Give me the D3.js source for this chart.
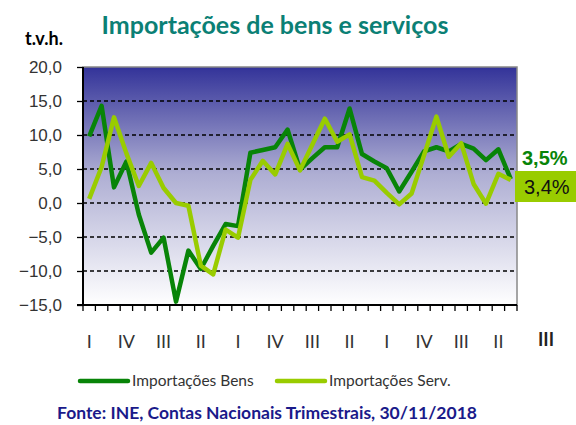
<html>
<head>
  <style>
  body {
    margin: 0;
    background: #fff;
  }
  svg text {
    font-family: "Liberation Sans", Arial, sans-serif;
  }
  .axis .domain {
    display: none;
  }
  .grid line {
    stroke: #000;
    stroke-dasharray: 4,3;
    stroke-width: 1.3px;
  }
  </style>
</head>
<body>
<div id="chart"></div>
<script src="https://d3js.org/d3.v7.min.js"></script>
<script>

// quarters from 2010 Q1 to 2018 Q3
var quarters = ["I","II","III","IV","I","II","III","IV","I","II","III","IV",
                "I","II","III","IV","I","II","III","IV","I","II","III","IV",
                "I","II","III","IV","I","II","III","IV","I","II","III"];

var bens = [9.8, 14.3, 2.3, 6.1, -1.7, -7.3, -5.1, -14.5, -7.0, -9.7, -6.3, -3.1,
            -3.4, 7.4, 7.8, 8.2, 10.8, 4.9, 6.6, 8.2, 8.2, 13.9, 7.2, 6.1,
            5.1, 1.7, 4.6, 7.6, 8.2, 7.6, 8.7, 8.0, 6.3, 7.9, 3.5];

var serv = [0.6, 5.3, 12.6, 7.3, 2.5, 5.9, 2.2, 0.0, -0.4, -9.2, -10.5, -3.9,
            -5.1, 3.4, 6.2, 4.2, 8.7, 4.8, 8.6, 12.4, 9.0, 10.1, 3.8, 3.3,
            1.5, -0.2, 1.4, 7.0, 12.7, 6.8, 8.8, 2.8, -0.1, 4.3, 3.4];

var yTicks = [-15, -10, -5, 0, 5, 10, 15, 20];

var series = [
  {name: "Importações Bens", values: bens, color: "#088408"},
  {name: "Importações Serv.", values: serv, color: "#99cc00"}
];

var W = 576, H = 425;
var margin = {top: 67, right: 59, bottom: 120, left: 83};
var width = W - margin.left - margin.right,
    height = H - margin.top - margin.bottom;

var svg = d3.select("#chart").append("svg")
    .attr("width", W)
    .attr("height", H);

var defs = svg.append("defs");
var grad = defs.append("linearGradient")
    .attr("id", "bg")
    .attr("x1", 0).attr("y1", 0).attr("x2", 0).attr("y2", 1);
grad.append("stop").attr("offset", "0%").attr("stop-color", "#333399");
grad.append("stop").attr("offset", "45%").attr("stop-color", "#aeaed3");
grad.append("stop").attr("offset", "100%").attr("stop-color", "#ffffff");

var g = svg.append("g")
    .attr("transform", "translate(" + margin.left + "," + margin.top + ")");

var idx = d3.range(quarters.length);

var x = d3.scaleBand()
    .domain(idx)
    .range([0, width]);

var y = d3.scaleLinear()
    .domain([-15, 20])
    .range([height, 0]);

// plot background
g.append("rect")
    .attr("width", width)
    .attr("height", height)
    .attr("fill", "url(#bg)")
    .attr("stroke", "#888")
    .attr("stroke-width", 1.5);

// dashed grid
g.append("g")
    .attr("class", "grid")
    .selectAll("line")
    .data(yTicks.filter(function(d){ return d > -15 && d < 20; }))
    .enter().append("line")
      .attr("x1", 0)
      .attr("x2", width)
      .attr("y1", function(d){ return y(d); })
      .attr("y2", function(d){ return y(d); });

// y axis
var yAxis = g.append("g")
    .attr("class", "axis")
    .call(d3.axisLeft(y).tickValues(yTicks).tickSize(6).tickPadding(15)
      .tickFormat(function(d){ return d3.format(".1f")(d).replace(".", ","); }));
yAxis.selectAll("line").attr("stroke", "#000").attr("stroke-width", 1.3);
yAxis.selectAll("text")
    .style("font-size", "17px")
    .style("font-family", "'Liberation Sans', Arial, sans-serif")
    .attr("fill", "#333");

g.append("line")
    .attr("x1", 0).attr("x2", 0)
    .attr("y1", 0).attr("y2", height)
    .attr("stroke", "#000").attr("stroke-width", 2);

// x axis with ticks between categories
var xTicks = g.append("g")
    .attr("transform", "translate(0," + height + ")");
xTicks.append("line")
    .attr("x1", -6).attr("x2", width)
    .attr("stroke", "#000").attr("stroke-width", 2);
xTicks.selectAll(".tk")
    .data(d3.range(quarters.length + 1))
    .enter().append("line")
      .attr("x1", function(i){ return i * x.step(); })
      .attr("x2", function(i){ return i * x.step(); })
      .attr("y1", 0).attr("y2", 6)
      .attr("stroke", "#000").attr("stroke-width", 1.3);

// category labels, every third quarter
xTicks.selectAll(".lbl")
    .data(idx.filter(function(i){ return i % 3 === 0; }))
    .enter().append("text")
      .attr("x", function(i){ return x(i) + x.bandwidth() / 2; })
      .attr("y", 43)
      .attr("text-anchor", "middle")
      .style("font-family", "Lato, sans-serif")
      .style("font-size", "18px")
      .attr("fill", "#333")
      .text(function(i){ return quarters[i]; });

// last quarter label
svg.append("text")
    .attr("x", 546)
    .attr("y", 346)
    .attr("text-anchor", "middle")
    .style("font-family", "Lato, sans-serif")
    .style("font-size", "18px")
    .style("font-weight", "bold")
    .attr("fill", "#222")
    .text(quarters[quarters.length - 1]);

// lines
var line = d3.line()
    .x(function(d, i){ return x(i) + x.bandwidth() / 2; })
    .y(function(d){ return y(d); });

g.selectAll(".series")
  .data(series)
  .enter().append("path")
    .attr("d", function(s){ return line(s.values); })
    .attr("fill", "none")
    .attr("stroke", function(s){ return s.color; })
    .attr("stroke-width", 4.5)
    .attr("stroke-linejoin", "round");

// end labels
var lastB = bens[bens.length - 1], lastS = serv[serv.length - 1];
svg.append("text")
    .attr("x", 522)
    .attr("y", 165)
    .style("font-size", "20px")
    .style("font-weight", "bold")
    .attr("fill", "#088408")
    .text(d3.format(".1f")(lastB).replace(".", ",") + "%");

svg.append("rect")
    .attr("x", 515)
    .attr("y", 171)
    .attr("width", 61)
    .attr("height", 31)
    .attr("fill", "#99cc00");
svg.append("text")
    .attr("x", 524)
    .attr("y", 194)
    .style("font-size", "20px")
    .attr("fill", "#111")
    .text(d3.format(".1f")(lastS).replace(".", ",") + "%");

// title
svg.append("text")
    .attr("x", 275)
    .attr("y", 34)
    .attr("text-anchor", "middle")
    .style("font-family", "Lato, sans-serif")
    .style("font-size", "25px")
    .style("font-weight", "bold")
    .attr("fill", "#0b8075")
    .text("Importações de bens e serviços");

svg.append("text")
    .attr("x", 25)
    .attr("y", 45)
    .style("font-family", "Lato, sans-serif")
    .style("font-size", "18px")
    .style("font-weight", "bold")
    .attr("fill", "#000")
    .text("t.v.h.");

// legend
var legend = svg.append("g")
    .attr("transform", "translate(80,381)");
var item = legend.selectAll(".item")
  .data(series)
  .enter().append("g")
    .attr("transform", function(d, i){ return "translate(" + (i * 197) + ",0)"; });
item.append("line")
    .attr("x1", 0).attr("x2", 48)
    .attr("stroke", function(d){ return d.color; })
    .attr("stroke-width", 4.5)
    .attr("stroke-linecap", "round");
item.append("text")
    .attr("x", 52)
    .attr("y", 5)
    .style("font-family", "Lato, sans-serif")
    .style("font-size", "15.5px")
    .attr("fill", "#333")
    .text(function(d){ return d.name; });

// source
svg.append("text")
    .attr("x", 267)
    .attr("y", 419)
    .attr("text-anchor", "middle")
    .style("font-family", "Lato, sans-serif")
    .style("font-size", "17.5px")
    .style("font-weight", "bold")
    .attr("fill", "#1a1a8a")
    .text("Fonte: INE, Contas Nacionais Trimestrais, 30/11/2018");

</script>
</body>
</html>
